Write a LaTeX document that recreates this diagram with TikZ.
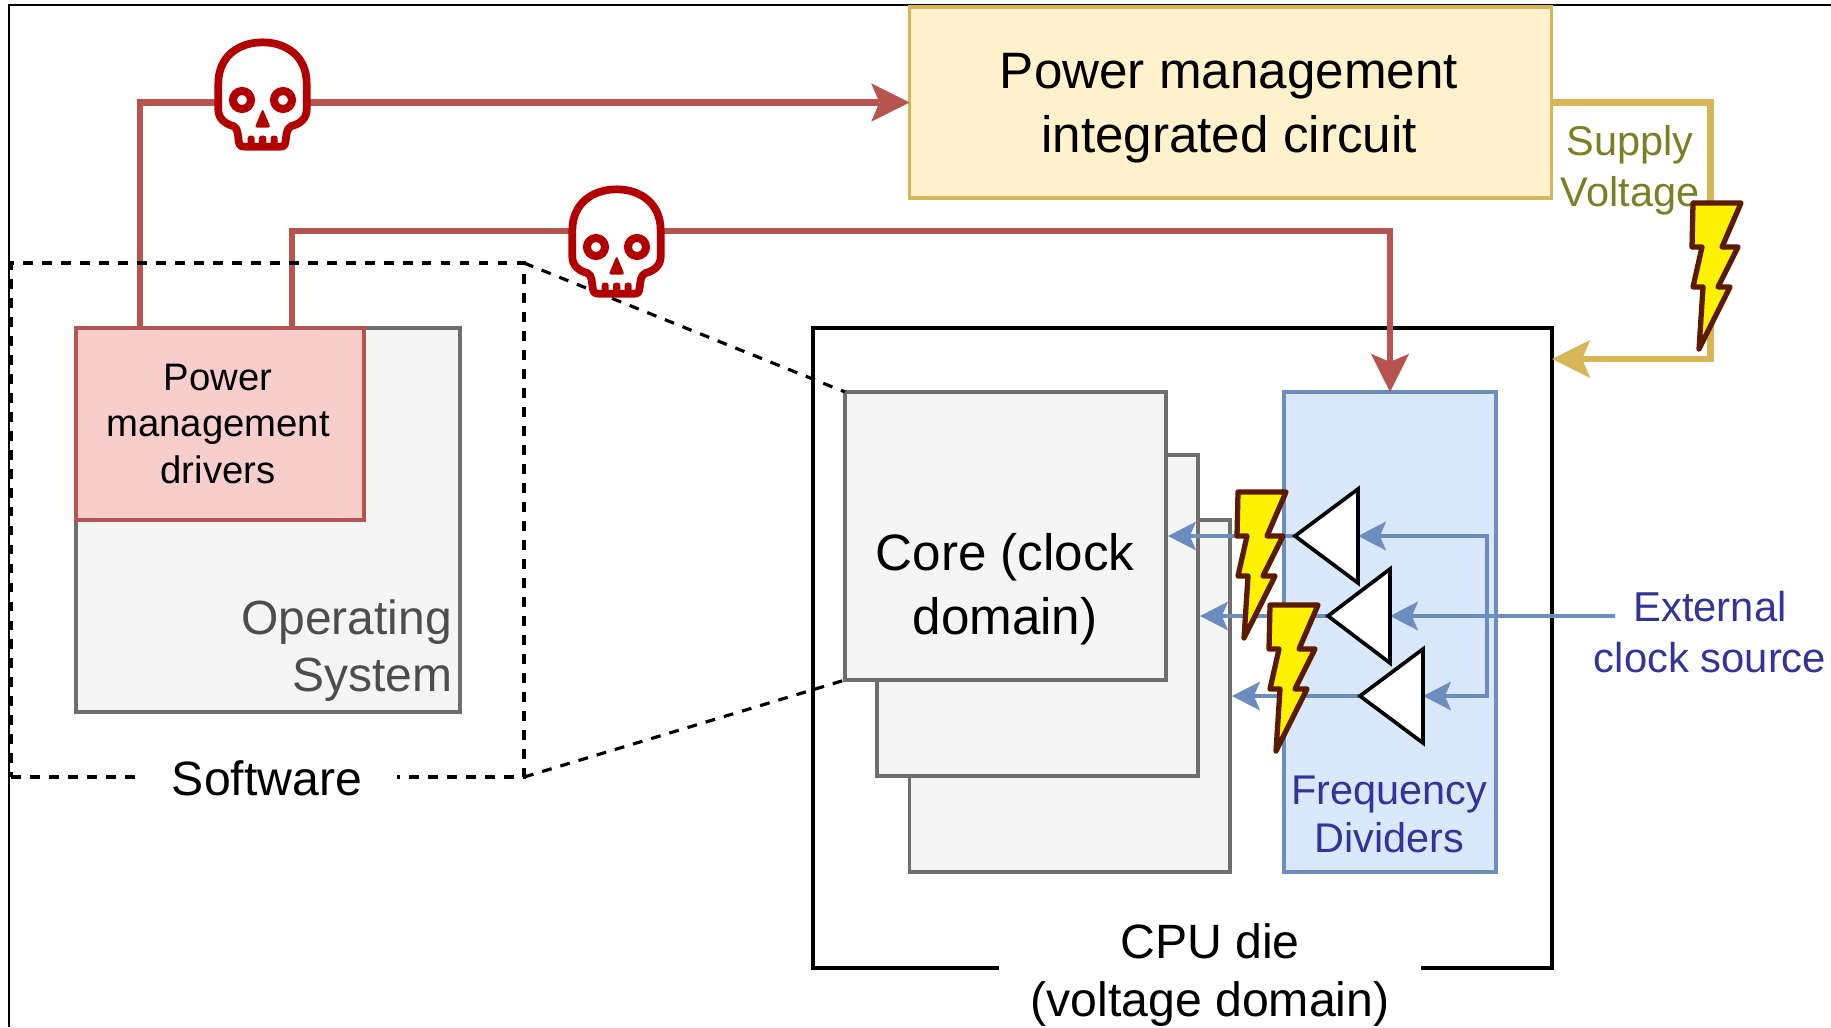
\documentclass[tikz,border=0pt]{standalone}
\usepackage{fontspec}
\setmainfont{Liberation Sans}
\usetikzlibrary{arrows.meta,calc}
\definecolor{redline}{HTML}{B85450}
\definecolor{redfill}{HTML}{F8CECC}
\definecolor{skullred}{HTML}{B20000}
\definecolor{goldline}{HTML}{D6B656}
\definecolor{goldfill}{HTML}{FFF2CC}
\definecolor{blueline}{HTML}{6C8EBF}
\definecolor{bluefill}{HTML}{DAE8FC}
\definecolor{grayline}{HTML}{6E6E6E}
\definecolor{grayfill}{HTML}{F5F5F5}
\definecolor{oslabel}{HTML}{4D4D4D}
\definecolor{indigo}{HTML}{333399}
\definecolor{olivetext}{HTML}{7A7F24}
\definecolor{boltline}{HTML}{5C1A00}
\newcommand{\pxfont}[2]{\pgfmathsetmacro{\fsA}{#1*0.569}\pgfmathsetmacro{\fsB}{#2*0.569}\fontsize{\fsA pt}{\fsB pt}\selectfont}
\tikzset{
  wh/.style 2 args={minimum width=#1*0.02cm,minimum height=#2*0.02cm},
  rectbox/.style={draw,rectangle,inner sep=0pt,outer sep=0pt,align=center,line width=1.9pt},
  graybox/.style={rectbox,draw=grayline,fill=grayfill},
  label/.style={inner sep=0pt,outer sep=0pt,align=center},
  redconn/.style={draw=redline,line width=3.9pt,-{Stealth[length=21.8pt,width=21.8pt,inset=4.7pt,line width=0pt]}},
  goldconn/.style={draw=goldline,line width=3.9pt,-{Stealth[length=21.8pt,width=21.8pt,inset=4.7pt,line width=0pt]}},
  blueconn/.style={draw=blueline,line width=2.4pt,-{Stealth[length=16pt,width=16.5pt,inset=3.5pt,line width=0pt]}},
  dashline/.style={draw=black,line width=1.8pt,dash pattern=on 5.6pt off 5.2pt},
  amp/.style={draw=black,fill=white,line width=2.1pt,miter limit=10},
  boltshape/.style={draw=boltline,fill=yellow,line width=3pt,line join=round},
  skullline/.style={draw=skullred,fill=white,line width=4.4pt,line join=round}
}
\newcommand{\boltat}[2]{%
  \path[boltshape,shift={(#1,#2)}] (1238,492) -- (1286,492) -- (1267,536) -- (1283,536) -- (1263,576) -- (1275,576)
    -- (1244,638) -- (1248,576) -- (1238,576) -- (1247,536) -- (1237,536) -- cycle;}
\newcommand{\skullat}[2]{%
  \begin{scope}[shift={(#1,#2)},x=0.00667cm,y=-0.00667cm]
    \path[skullline] (115,190) .. controls (115,110) and (175,67) .. (248,67)
      .. controls (320,67) and (380,110) .. (380,190) -- (380,270)
      .. controls (380,295) and (360,312) .. (335,318)
      .. controls (318,325) and (320,345) .. (316,368)
      .. controls (314,378) and (310,380) .. (300,380) -- (195,380)
      .. controls (185,380) and (179,378) .. (177,368)
      .. controls (173,345) and (175,325) .. (160,318)
      .. controls (135,312) and (115,295) .. (115,270) -- cycle;
    \draw[skullred,line width=4.6pt] (186,240) circle[radius=27];
    \draw[skullred,line width=4.6pt] (309,240) circle[radius=27];
    \fill[skullred,rounded corners=1.5pt] (248,266) -- (272,323) -- (224,323) -- cycle;
    \fill[skullred,rounded corners=1.5pt] (203,385) rectangle (224,347);
    \fill[skullred,rounded corners=1.5pt] (237,385) rectangle (259,347);
    \fill[skullred,rounded corners=1.5pt] (272,385) rectangle (293,347);
  \end{scope}}
\begin{document}
\begin{tikzpicture}[x=0.02cm,y=-0.02cm]
\useasboundingbox (0,0) rectangle (1831,1027);
% outer frame
\coordinate (frameBL) at (9,1027);
\coordinate (frameTL) at (9,5);
\coordinate (frameTR) at (1831,5);
\draw[black,line width=1.5pt] (frameBL) -- (frameTL) -- (frameTR);
% boxes
\node[rectbox,wh={642}{191},draw=goldline,fill=goldfill] (pmic) at (1230.5,102.5) {};
\node[label,font=\pxfont{51.2}{64}] (pmiclab) at (1229,108) {Power management\\integrated circuit};
\node[rectbox,wh={739}{640},draw=black,fill=white,line width=1.8pt] (die) at (1182.5,648) {};
\node[graybox,wh={384}{384}] (os) at (268,520) {};
\node[label,anchor=east,align=right,font=\pxfont{48}{57},text=oslabel] (oslab) at (452,651) {Operating\\System};
\node[rectbox,wh={288}{192},draw=redline,fill=redfill] (pm) at (220,424) {};
\node[label,font=\pxfont{38.3}{47}] (pmlab) at (218,424) {Power\\management\\drivers};
\node[graybox,wh={320.5}{352}] (core3) at (1069.75,696) {};
\node[graybox,wh={321}{321}] (core2) at (1037.5,615.5) {};
\node[graybox,wh={321}{288}] (core1) at (1005.5,536) {};
\node[label,font=\pxfont{51.2}{64}] (corelab) at (1005,589) {Core (clock\\domain)};
\node[rectbox,wh={212}{480},draw=blueline,fill=bluefill] (freq) at (1390,632) {};
\node[label,font=\pxfont{41.5}{48},text=indigo] (freqlab) at (1389,814) {Frequency\\Dividers};
% die label (white backing opens the bottom edge)
\node[label,fill=white,minimum width=422*0.02cm,font=\pxfont{48.2}{58}] (dielab) at (1210,975) {CPU die\\(voltage domain)};
% red control lines
\coordinate (r1) at (140,328);
\coordinate (r2) at (292,328);
\draw[redconn] (r1) |- (pmic.west);
\draw[redconn] (r2) -- ++(0,-97) -| (freq.north);
% software frame
\node[rectbox,wh={513}{514},dashline,fill=none] (sw) at (267.5,520) {};
\draw[dashline] (sw.north east) -- (core1.north west);
\draw[dashline] (sw.south east) -- (core1.south west);
\node[label,fill=white,minimum width=259*0.02cm,minimum height=40*0.02cm,font=\pxfont{48.2}{57}] (swlab) at (267,778) {Software};
% supply
\coordinate (dieIn) at (1552,359);
\draw[goldconn,line join=miter] (pmic.east) -- ++(159,0) |- (dieIn);
\node[label,font=\pxfont{41.5}{51},text=olivetext] (supply) at (1630,170) {Supply\\Voltage};
% dividers
\coordinate (t1b) at (1358,536); \coordinate (t1t) at (1295,536);
\coordinate (t2b) at (1390,616); \coordinate (t2t) at (1328,616);
\coordinate (t3b) at (1423,696); \coordinate (t3t) at (1360,696);
\coordinate (bus) at (1487,616);
\coordinate (extStart) at (1615,616);
\coordinate (out1) at (1168,536);
\coordinate (out2) at (1200,616);
\coordinate (out3) at (1232,696);
\draw[blueconn] (t1t) -- (out1);
\draw[blueconn] (t2t) -- (out2);
\draw[blueconn] (t3t) -- (out3);
\draw[blueconn] (bus) |- (t1b);
\draw[blueconn] (bus) |- (t3b);
\draw[blueconn] (extStart) -- (t2b);
\draw[amp] (t1t) -- ($(t1b)+(0,-47)$) -- ($(t1b)+(0,47)$) -- cycle;
\draw[amp] (t2t) -- ($(t2b)+(0,-47)$) -- ($(t2b)+(0,47)$) -- cycle;
\draw[amp] (t3t) -- ($(t3b)+(0,-47)$) -- ($(t3b)+(0,47)$) -- cycle;
\node[label,font=\pxfont{41.8}{51},text=indigo] (ext) at (1710,632) {External\\clock source};
% bolts
\boltat{0}{0}
\boltat{32}{113}
\boltat{455}{-289}
% skulls
\skullat{180}{20}
\skullat{534}{167}
\end{tikzpicture}
\end{document}
